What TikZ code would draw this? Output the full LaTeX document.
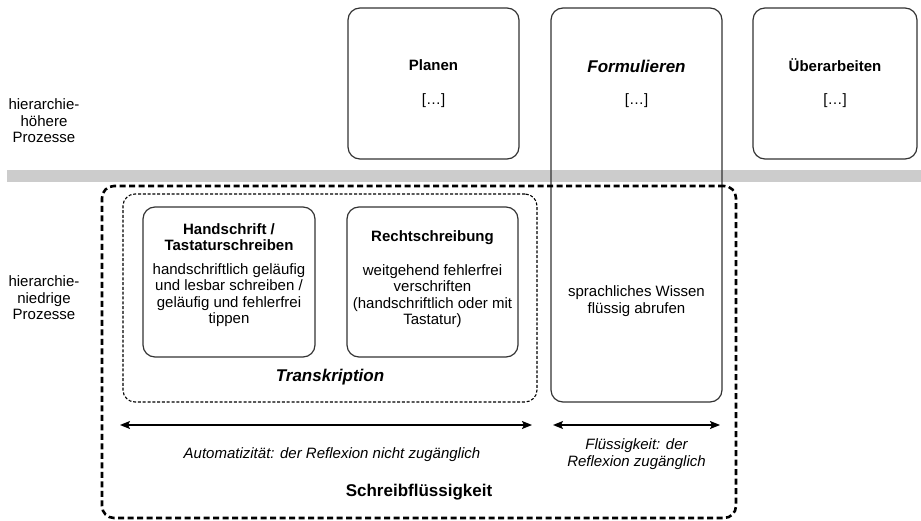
\documentclass[tikz,border=0pt]{standalone}
\definecolor{BarGray}{RGB}{204,204,204}
\definecolor{LineDark}{RGB}{51,51,51}
\usepackage{fontspec}
\setmainfont{Liberation Sans}
\usepackage{tikz}
\usetikzlibrary{arrows.meta, positioning}

\begin{document}
\begin{tikzpicture}[x=1pt, y=-1pt,
    txt/.style={align=center, inner sep=0pt, font=\fontsize{15}{16.5}\selectfont},
    big/.style={align=center, inner sep=0pt, font=\fontsize{17}{19}\selectfont\bfseries},
    proc/.style={draw=LineDark, line width=1.2pt, rounded corners=12pt,
                 inner sep=0pt, outer sep=0pt},
    group/.style={draw=black, line width=1.1pt, rounded corners=12pt,
                  dash pattern=on 3pt off 1.8pt, inner sep=0pt, outer sep=0pt},
    outer/.style={draw=black, line width=2.6pt, rounded corners=12pt,
                  dash pattern=on 6pt off 3.5pt, inner sep=0pt, outer sep=0pt},
    dbl/.style={{Stealth[length=10pt, width=8pt, inset=2pt]}-{Stealth[length=10pt, width=8pt, inset=2pt]},
                line width=1.3pt, black}
  ]
    \useasboundingbox (0,0) rectangle (921,521);

    % Separator between the two levels
    \fill[BarGray] (7,170) rectangle (921,182);

    % Left labels
    \node[txt] (hi) at (44,121) {hierarchie-\\höhere\\Prozesse};
    \node[txt] (lo) at (44,298) {hierarchie-\\niedrige\\Prozesse};

    % Upper processes
    \node[proc, minimum width=171pt, minimum height=151pt] (plan) at (433.5,83.5) {};
    \node[proc, minimum width=171pt, minimum height=394pt] (form) at (636.5,205) {};
    \node[proc, minimum width=164pt, minimum height=151pt] (ueber) at (835,83.5) {};

    \node[txt, font=\fontsize{15}{16.5}\selectfont\bfseries] (planT) at (433.5,65) {Planen};
    \node[txt] (planD) at (433.5,101) {[…]};
    \node[big, font=\fontsize{17}{19}\selectfont\bfseries\itshape] (formT) at (636.5,66) {Formulieren};
    \node[txt] (formD) at (636.5,101) {[…]};
    \node[txt, font=\fontsize{15}{16.5}\selectfont\bfseries] (ueberT) at (835,65) {Überarbeiten};
    \node[txt] (ueberD) at (835,101) {[…]};

    % Schreibfluessigkeit and Transkription
    \node[outer, minimum width=634pt, minimum height=332pt] (flu) at (419,352) {};
    \node[group, minimum width=414pt, minimum height=208pt] (trans) at (330,298) {};

    \node[proc, minimum width=172pt, minimum height=150pt] (hand) at (229,282) {};
    \node[proc, minimum width=171pt, minimum height=150pt] (recht) at (432.5,282) {};

    \node[txt, font=\fontsize{15}{16.5}\selectfont\bfseries] (handT) at (229,237)
      {Handschrift /\\Tastaturschreiben};
    \node[txt] (handD) at (229,295)
      {handschriftlich geläufig\\und lesbar schreiben /\\geläufig und fehlerfrei\\tippen};
    \node[txt, font=\fontsize{15}{16.5}\selectfont\bfseries] (rechtT) at (432.5,238)
      {Rechtschreibung};
    \node[txt] (rechtD) at (432.5,296)
      {weitgehend fehlerfrei\\verschriften\\(handschriftlich oder mit\\Tastatur)};

    \node[big, font=\fontsize{17}{19}\selectfont\bfseries\itshape] (transT) at (330,377) {Transkription};

    \node[txt] (wissen) at (636.5,301) {sprachliches Wissen\\flüssig abrufen};

    % Arrows
    \coordinate (autoL) at (120,425);
    \coordinate (autoR) at (532,425);
    \coordinate (fluL) at (553,425);
    \coordinate (fluR) at (720,425);
    \draw[dbl] (autoL) -- (autoR);
    \draw[dbl] (fluL) -- (fluR);

    \node[txt, font=\fontsize{15}{16.5}\selectfont\itshape] (autoT) at (332,455)
      {Automatizität: der Reflexion nicht zugänglich};
    \node[txt, font=\fontsize{15}{16.5}\selectfont\itshape] (fluT) at (636.5,454)
      {Flüssigkeit: der\\Reflexion zugänglich};

    \node[big] (fluName) at (419,492) {Schreibflüssigkeit};
  \end{tikzpicture}
\end{document}
